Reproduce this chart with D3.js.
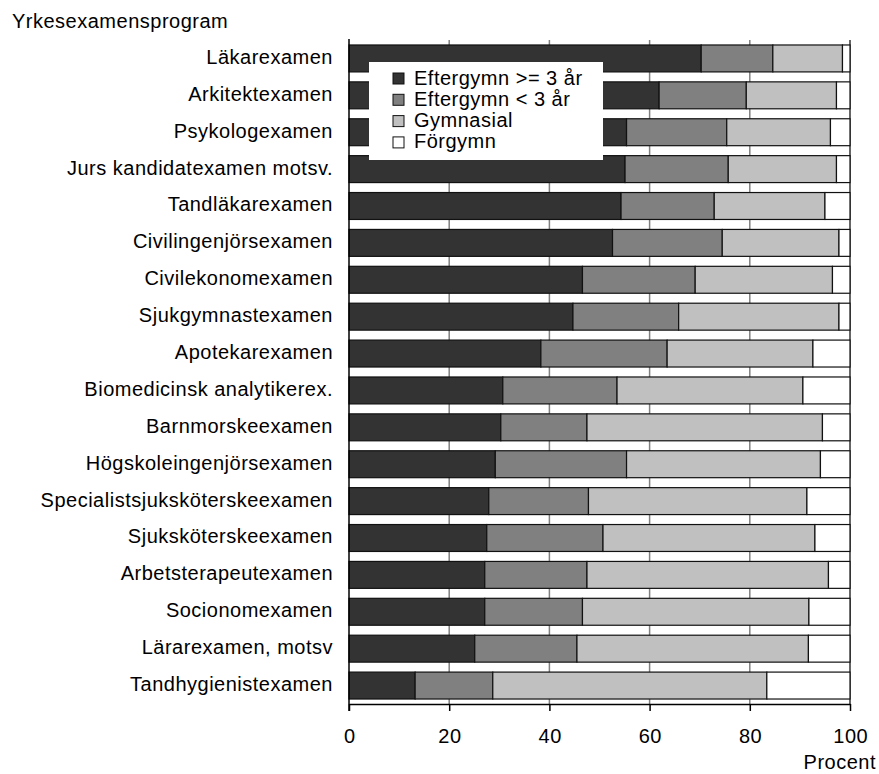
<!DOCTYPE html>
<html lang="sv">
<head>
<meta charset="UTF-8">
<title>Yrkesexamensprogram</title>
<style>
  body { margin: 0; background: #fff; }
  svg { display: block; }
  text { font-family: "Liberation Sans", Arial, sans-serif; font-size: 20px; letter-spacing: 0.5px; fill: #000; }
</style>
<script src="https://d3js.org/d3.v7.min.js"></script>
</head>
<body>
<svg id="chart" width="879" height="774"></svg>
<script>
const categories = [
  "Läkarexamen", "Arkitektexamen", "Psykologexamen", "Jurs kandidatexamen motsv.",
  "Tandläkarexamen", "Civilingenjörsexamen", "Civilekonomexamen", "Sjukgymnastexamen",
  "Apotekarexamen", "Biomedicinsk analytikerex.", "Barnmorskeexamen", "Högskoleingenjörsexamen",
  "Specialistsjuksköterskeexamen", "Sjuksköterskeexamen", "Arbetsterapeutexamen",
  "Socionomexamen", "Lärarexamen, motsv", "Tandhygienistexamen"
];
const seriesNames = ["Eftergymn >= 3 år", "Eftergymn < 3 år", "Gymnasial", "Förgymn"];
const eftergymn3 = [70.3, 61.9, 55.4, 55.1, 54.3, 52.6, 46.6, 44.7, 38.3, 30.7, 30.3, 29.2, 27.9, 27.5, 27.1, 27.1, 25.1, 13.2];
const eftergymnLt3 = [14.3, 17.4, 20.0, 20.6, 18.6, 21.9, 22.5, 21.1, 25.2, 22.8, 17.2, 26.2, 19.9, 23.2, 20.4, 19.5, 20.4, 15.5];
const gymnasial = [13.9, 18.0, 20.7, 21.6, 22.1, 23.3, 27.4, 32.0, 29.1, 37.1, 47.0, 38.7, 43.6, 42.3, 48.2, 45.2, 46.2, 54.7];
const forgymn = [1.5, 2.7, 3.9, 2.7, 5.0, 2.2, 3.5, 2.2, 7.4, 9.4, 5.5, 5.9, 8.6, 7.0, 4.3, 8.2, 8.3, 16.6];
const xTicks = [0, 20, 40, 60, 80, 100];
const colors = ["#333333", "#808080", "#c0c0c0", "#ffffff"];

const svg = d3.select("#chart");
const plotLeft = 349, plotRight = 850, plotTop = 40, plotBottom = 704;

const rows = categories.map((c, i) => ({
  cat: c,
  [seriesNames[0]]: eftergymn3[i],
  [seriesNames[1]]: eftergymnLt3[i],
  [seriesNames[2]]: gymnasial[i],
  [seriesNames[3]]: forgymn[i]
}));
const stacked = d3.stack().keys(seriesNames)(rows);

const x = d3.scaleLinear().domain([0, 100]).range([plotLeft, plotRight]);
const y = d3.scaleBand().domain(categories).range([plotTop, plotBottom])
  .paddingInner(0.27).paddingOuter(0.135);
const color = d3.scaleOrdinal().domain(seriesNames).range(colors);

// grid lines
svg.append("g").selectAll("line")
  .data(xTicks.filter(d => d > 0))
  .join("line")
  .attr("x1", d => x(d)).attr("x2", d => x(d))
  .attr("y1", plotTop).attr("y2", plotBottom)
  .attr("stroke", d => d === 100 ? "#333" : "#808080")
  .attr("stroke-width", 1.5);

// bars
svg.append("g").selectAll("g")
  .data(stacked)
  .join("g")
  .attr("fill", d => color(d.key))
  .selectAll("rect")
  .data(d => d)
  .join("rect")
  .attr("x", d => x(d[0]))
  .attr("y", d => y(d.data.cat))
  .attr("width", d => x(d[1]) - x(d[0]))
  .attr("height", y.bandwidth())
  .attr("stroke", "#111")
  .attr("stroke-width", 1.2);

// x axis
const xAxis = svg.append("g")
  .attr("transform", `translate(0,${plotBottom})`)
  .call(d3.axisBottom(x).tickValues(xTicks).tickSize(7).tickPadding(18).tickSizeOuter(0));
xAxis.select(".domain").attr("stroke", "#000").attr("stroke-width", 1.5);
xAxis.selectAll(".tick line").attr("stroke", "#000").attr("stroke-width", 1.5);
xAxis.selectAll("text").style("font-size", "20px").attr("fill", "#000").attr("dx", "0.25px");

// y axis
const yAxis = svg.append("g")
  .attr("transform", `translate(${plotLeft},0)`)
  .call(d3.axisLeft(y).tickSize(0).tickPadding(16));
yAxis.select(".domain").attr("stroke", "#000").attr("stroke-width", 1.5)
  .attr("d", `M0,${plotTop - 1}V${plotBottom + 7}`);
yAxis.selectAll("text").style("font-size", "20px").attr("fill", "#000").attr("dy", "0.27em");

// titles
svg.append("text").attr("x", 12).attr("y", 28).text("Yrkesexamensprogram");
svg.append("text").attr("x", 876).attr("y", 769).attr("text-anchor", "end").text("Procent");

// legend
const legend = svg.append("g").attr("transform", "translate(369,62)");
legend.append("rect").attr("width", 234).attr("height", 98).attr("fill", "#fff");
const li = legend.selectAll("g.item").data(seriesNames).join("g")
  .attr("class", "item")
  .attr("transform", (d, i) => `translate(24,${11 + i * 21.3})`);
li.append("rect").attr("width", 11).attr("height", 11)
  .attr("fill", d => color(d)).attr("stroke", "#111").attr("stroke-width", 1);
li.append("text").attr("x", 21).attr("y", 11.5).text(d => d);
</script>
</body>
</html>
